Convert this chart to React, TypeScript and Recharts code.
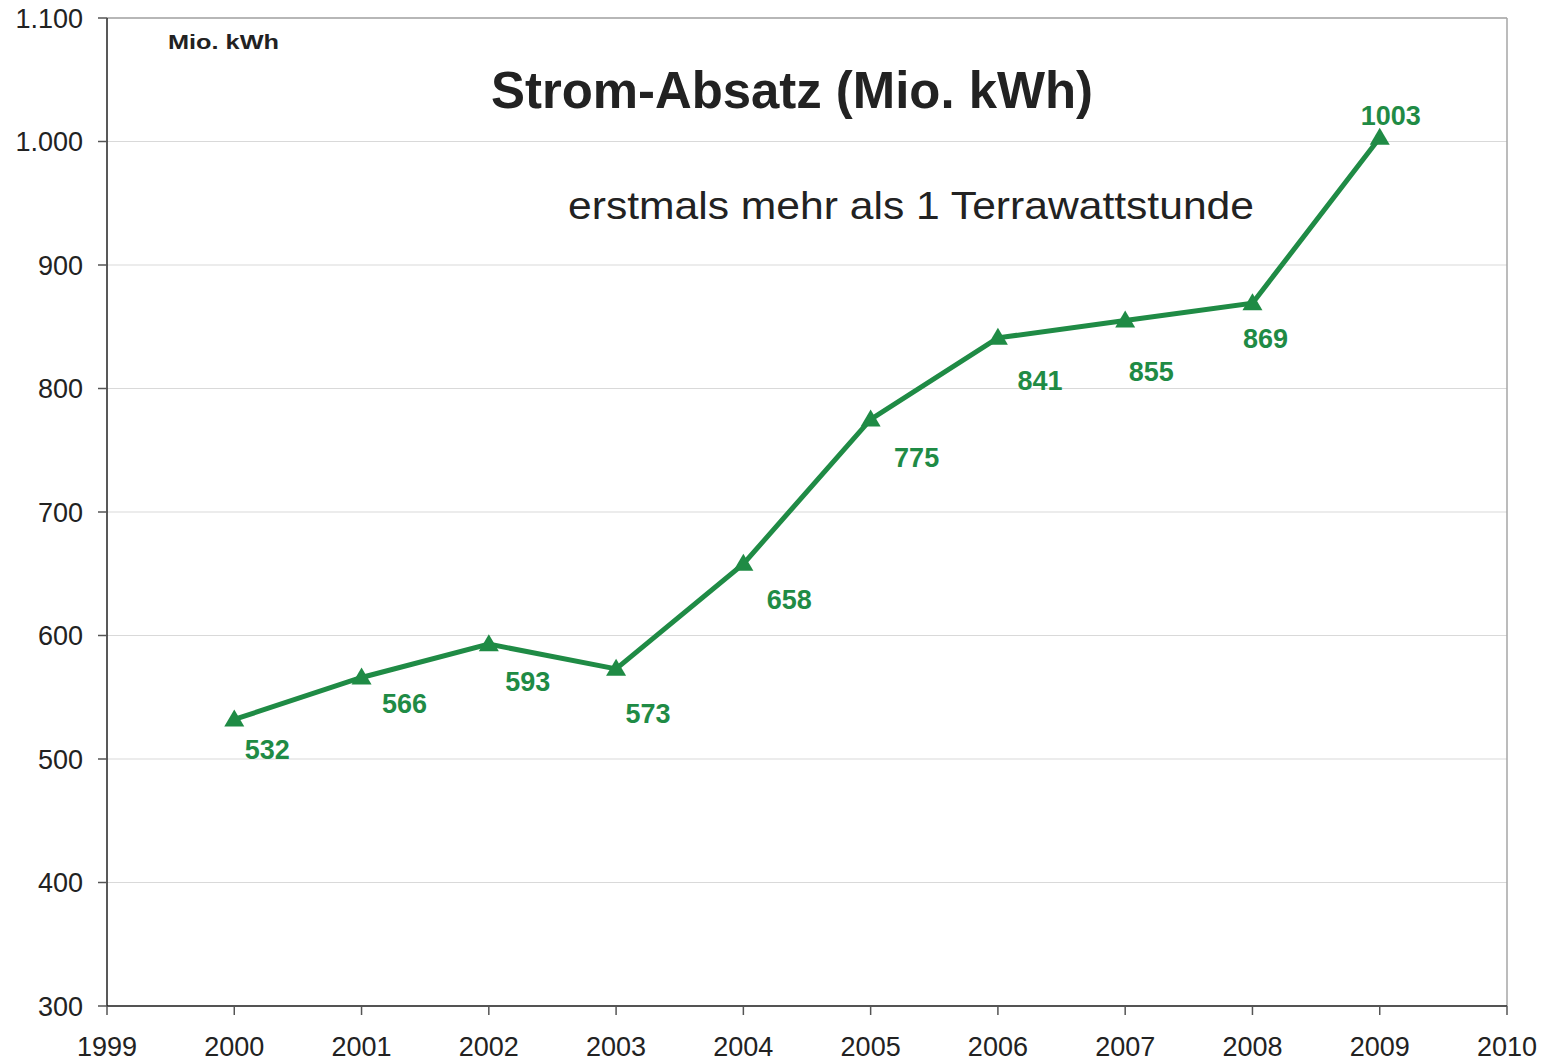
import React from "react";
import {
  LineChart,
  Line,
  XAxis,
  YAxis,
  CartesianGrid,
  ReferenceLine,
} from "recharts";

const years = [2000, 2001, 2002, 2003, 2004, 2005, 2006, 2007, 2008, 2009];
const absatz = [532, 566, 593, 573, 658, 775, 841, 855, 869, 1003];
const xTicks = [1999, 2000, 2001, 2002, 2003, 2004, 2005, 2006, 2007, 2008, 2009, 2010];
const yTicks = [300, 400, 500, 600, 700, 800, 900, 1000, 1100];

// where each value label sits relative to its point (dx, dy)
const labelOffsets: [number, number][] = [
  [33, 31],
  [43, 27],
  [39, 38],
  [32, 45],
  [46, 36],
  [46, 39],
  [42, 43],
  [26, 51],
  [13, 36],
  [11, -22],
];

const data = years.map((year, i) => ({ year, value: absatz[i] }));

const GREEN = "#1f8b45";
const FONT = "'Liberation Sans', Arial, sans-serif";

const formatDe = (v: number) =>
  v >= 1000 ? `${Math.floor(v / 1000)}.${String(v % 1000).padStart(3, "0")}` : String(v);

function Triangle(props: any) {
  const { cx, cy, index } = props;
  if (cx == null || cy == null) return null;
  return (
    <path
      key={`tri-${index}`}
      d={`M${cx},${cy - 10} L${cx + 10},${cy + 7} L${cx - 10},${cy + 7} Z`}
      fill={GREEN}
    />
  );
}

function ValueLabel(props: any) {
  const { x, y, value, index } = props;
  const [dx, dy] = labelOffsets[index] ?? [30, 30];
  return (
    <text
      key={`lbl-${index}`}
      x={x + dx}
      y={y + dy}
      textAnchor="middle"
      dominantBaseline="central"
      fill={GREEN}
      fontFamily={FONT}
      fontWeight="bold"
      fontSize={27}
    >
      {value}
    </text>
  );
}

export default function App() {
  return (
    <div style={{ position: "absolute", left: 0, top: 0, width: 1544, height: 1062, background: "#fff" }}>
      <LineChart
        width={1544}
        height={1062}
        data={data}
        margin={{ top: 18, right: 37, bottom: 0, left: 0 }}
      >
        <CartesianGrid horizontal vertical={false} stroke="#d9d9d9" strokeWidth={1.2} />
        <XAxis
          type="number"
          dataKey="year"
          domain={[1999, 2010]}
          ticks={xTicks}
          interval={0}
          height={56}
          tickSize={9}
          axisLine={{ stroke: "#222", strokeWidth: 1.5 }}
          tickLine={{ stroke: "#555", strokeWidth: 1.5 }}
          tick={{ fill: "#222", fontSize: 27, fontFamily: FONT }}
          tickMargin={22}
        />
        <YAxis
          type="number"
          domain={[300, 1100]}
          ticks={yTicks}
          interval={0}
          width={107}
          tickSize={9}
          tickFormatter={formatDe}
          axisLine={{ stroke: "#222", strokeWidth: 1.5 }}
          tickLine={{ stroke: "#555", strokeWidth: 1.5 }}
          tick={{ fill: "#222", fontSize: 27, fontFamily: FONT }}
          tickMargin={15}
        />
        <ReferenceLine y={1100} stroke="#a6a6a6" strokeWidth={1.5} />
        <ReferenceLine x={2010} stroke="#a6a6a6" strokeWidth={1.5} />
        <Line
          type="linear"
          dataKey="value"
          stroke={GREEN}
          strokeWidth={5}
          dot={Triangle}
          activeDot={false}
          label={ValueLabel}
          isAnimationActive={false}
        />
      </LineChart>
      <svg
        width={1544}
        height={1062}
        style={{ position: "absolute", left: 0, top: 0, pointerEvents: "none" }}
      >
        <text
          x={168}
          y={49}
          fontFamily={FONT}
          fontWeight="bold"
          fontSize={21}
          fill="#222"
          textLength={111}
          lengthAdjust="spacingAndGlyphs"
        >
          Mio. kWh
        </text>
        <text
          x={491}
          y={108}
          fontFamily={FONT}
          fontWeight="bold"
          fontSize={52}
          fill="#222"
          textLength={602}
          lengthAdjust="spacingAndGlyphs"
        >
          Strom-Absatz (Mio. kWh)
        </text>
        <text
          x={568}
          y={219}
          fontFamily={FONT}
          fontSize={39}
          fill="#222"
          textLength={686}
          lengthAdjust="spacingAndGlyphs"
        >
          erstmals mehr als 1 Terrawattstunde
        </text>
      </svg>
    </div>
  );
}
